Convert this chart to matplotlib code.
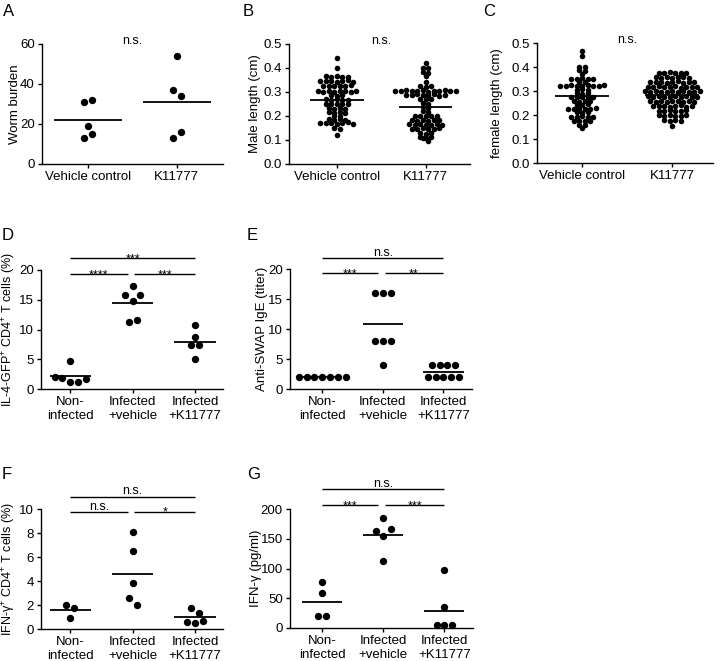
import numpy as np
import matplotlib.pyplot as plt

plt.rcParams['font.family'] = ['Liberation Sans', 'DejaVu Sans']
plt.rcParams['mathtext.fontset'] = 'custom'
plt.rcParams['mathtext.rm'] = 'Liberation Sans'
plt.rcParams['mathtext.it'] = 'Liberation Sans:italic'

FIG_W, FIG_H = 720, 661

# ---- data ----
groups_2 = ["Vehicle control", "K11777"]
groups_3 = ["Non-\ninfected", "Infected\n+vehicle", "Infected\n+K11777"]

worm_vehicle = [31, 32, 19, 13, 15]
worm_k11777 = [54, 37, 34, 13, 16]

male_vehicle = [0.44, 0.40,
                0.366, 0.363, 0.368, 0.364, 0.362,
                0.346, 0.344, 0.347, 0.343, 0.345, 0.348, 0.342,
                0.326, 0.324, 0.327, 0.323, 0.325, 0.328,
                0.304, 0.302, 0.305, 0.301, 0.303, 0.306, 0.300, 0.303,
                0.286, 0.284, 0.287,
                0.269, 0.267, 0.270, 0.266, 0.268,
                0.251, 0.249, 0.252, 0.248, 0.250,
                0.233, 0.231, 0.234, 0.230,
                0.216, 0.214, 0.217, 0.213,
                0.201, 0.199,
                0.186, 0.184, 0.187, 0.183,
                0.171, 0.169, 0.172, 0.168, 0.170, 0.173, 0.167,
                0.150, 0.146,
                0.120]
male_k11777 = [0.420,
               0.401, 0.398,
               0.384, 0.381,
               0.366,
               0.341,
               0.323, 0.321, 0.324,
               0.306, 0.304, 0.307, 0.303, 0.305, 0.308, 0.302, 0.306, 0.304, 0.307, 0.303, 0.305,
               0.289, 0.287, 0.290, 0.286, 0.288, 0.291, 0.285, 0.288,
               0.271, 0.269, 0.272,
               0.253, 0.251,
               0.236, 0.233,
               0.219, 0.216,
               0.201, 0.199, 0.202, 0.198, 0.200,
               0.183, 0.181, 0.184, 0.180, 0.182, 0.185,
               0.165, 0.163, 0.166, 0.162, 0.164, 0.167, 0.161,
               0.147, 0.145, 0.148, 0.144, 0.146, 0.149,
               0.129, 0.127, 0.130,
               0.111, 0.109, 0.112, 0.108,
               0.096]

female_vehicle = [0.468, 0.447,
                  0.401, 0.398,
                  0.386, 0.383,
                  0.370,
                  0.352, 0.350, 0.353, 0.349, 0.352,
                  0.336, 0.338,
                  0.322, 0.321, 0.323, 0.320, 0.322, 0.324, 0.319, 0.321, 0.325,
                  0.306, 0.308, 0.305,
                  0.290, 0.288, 0.291,
                  0.276, 0.274, 0.277, 0.275, 0.273,
                  0.258, 0.256, 0.259, 0.257,
                  0.243, 0.241, 0.244,
                  0.226, 0.224, 0.227, 0.223, 0.225, 0.228,
                  0.211, 0.209, 0.212,
                  0.193, 0.191, 0.194, 0.190, 0.192,
                  0.176, 0.174, 0.177, 0.175,
                  0.160, 0.158,
                  0.145]
female_k11777 = [0.377, 0.375, 0.378, 0.374, 0.376, 0.373,
                 0.358, 0.356, 0.359, 0.355, 0.357, 0.360, 0.354,
                 0.338, 0.336, 0.339, 0.335, 0.337, 0.340, 0.334, 0.338, 0.336,
                 0.318, 0.316, 0.319, 0.315, 0.317, 0.320, 0.314, 0.318, 0.316, 0.317,
                 0.298, 0.296, 0.299, 0.295, 0.297, 0.300, 0.294, 0.298, 0.296, 0.297, 0.299,
                 0.278, 0.276, 0.279, 0.275, 0.277, 0.280, 0.274, 0.278, 0.276, 0.277,
                 0.258, 0.256, 0.259, 0.255, 0.257, 0.260, 0.254, 0.258, 0.256,
                 0.238, 0.236, 0.239, 0.235, 0.237, 0.240, 0.234, 0.238,
                 0.218, 0.216, 0.219, 0.215, 0.217, 0.220,
                 0.198, 0.196, 0.199, 0.195, 0.197, 0.200,
                 0.178, 0.176, 0.179, 0.175,
                 0.155]

il4_groups = [[4.7, 2.05, 1.8, 1.25, 1.25, 1.7],
              [17.3, 15.8, 14.8, 15.8, 11.3, 11.6],
              [10.8, 8.7, 7.4, 7.4, 5.0]]
il4_sig = ["***", "****", "***"]          # outer, left pair, right pair

ige_groups = [[2, 2, 2, 2, 2, 2, 2],
              [16, 16, 16, 8, 8, 8, 4],
              [4, 4, 4, 4, 2, 2, 2, 2, 2]]
ige_sig = ["n.s.", "***", "**"]

ifng_cells_groups = [[2.0, 1.75, 0.9],
                     [8.1, 6.5, 3.8, 2.6, 2.0],
                     [1.72, 1.3, 0.6, 0.5, 0.7]]
ifng_cells_sig = ["n.s.", "n.s.", "*"]

ifng_groups = [[78, 58, 20, 21],
               [185, 163, 155, 167, 113],
               [97, 35, 5, 5, 5]]
ifng_sig = ["n.s.", "***", "***"]


def add_axes(fig, left, top, right, bottom):
    return fig.add_axes([left / FIG_W, 1 - bottom / FIG_H,
                         (right - left) / FIG_W, (bottom - top) / FIG_H])


def style(ax, xlim, ylim, yticks, fmt="{:g}"):
    for s in ["top", "right"]:
        ax.spines[s].set_visible(False)
    for s in ["left", "bottom"]:
        ax.spines[s].set_linewidth(1.0)
    ax.tick_params(width=1.0, length=3.2, labelsize=9.5, pad=2)
    ax.set_xlim(*xlim)
    ax.set_ylim(*ylim)
    ax.set_yticks(yticks)
    ax.set_yticklabels([fmt.format(t) for t in yticks])


def px_units(ax):
    pos = ax.get_position()
    x0, x1 = ax.get_xlim()
    y0, y1 = ax.get_ylim()
    return (x1 - x0) / (pos.width * FIG_W), (y1 - y0) / (pos.height * FIG_H)


def set_ylabel(ax, text, right_px, size=9.5):
    # right edge of the rotated label, in figure pixels
    pos = ax.get_position()
    ax.set_ylabel(text, fontsize=size)
    ax.yaxis.set_label_coords((right_px / FIG_W - pos.x0) / pos.width, 0.5)


def dot_column(ax, values, center, row_px, dx_px, ms, half):
    # Prism-like: points that overlap vertically form a row, spread sideways
    ux, uy = px_units(ax)
    vals = np.asarray(values, float)
    order = np.argsort(vals, kind="stable")
    rows = []
    for i in order:
        if rows and vals[i] - vals[rows[-1][0]] < row_px * uy:
            rows[-1].append(i)
        else:
            rows.append([i])
    xs = np.zeros(len(vals))
    for row in rows:
        row = sorted(row)
        n = len(row)
        for k, i in enumerate(row):
            xs[i] = center + (k - (n - 1) / 2) * dx_px * ux
    ax.plot(xs, vals, "o", color="black", ms=ms, mew=0, clip_on=False, zorder=3)
    m = vals.mean()
    ax.plot([center - half, center + half], [m, m], color="black", lw=1.3,
            zorder=2, solid_capstyle="butt")


def sig_bar(ax, x0, x1, y, label):
    ax.plot([x0, x1], [y, y], color="black", lw=1.0, clip_on=False,
            solid_capstyle="butt")
    off = 1.8 if label == "n.s." else -2.8
    ax.annotate(label, ((x0 + x1) / 2, y), xytext=(0, off),
                textcoords="offset points", ha="center", va="baseline",
                fontsize=9, annotation_clip=False)


def two_group(fig, box, a, b, ylim, yticks, ylabel, label_px, fmt, row_px, dx_px, ms,
              half, xlim):
    ax = add_axes(fig, *box)
    style(ax, xlim, ylim, yticks, fmt)
    dot_column(ax, a, 0, row_px, dx_px, ms, half)
    dot_column(ax, b, 1, row_px, dx_px, ms, half)
    ax.set_xticks([0, 1])
    ax.set_xticklabels(groups_2)
    set_ylabel(ax, ylabel, label_px)
    ax.text(0.5, ylim[1], "n.s.", ha="center", va="baseline", fontsize=9)
    return ax


def three_group(fig, box, groups, sig, ylim, yticks, ylabel, label_px, levels, xlim,
                label_size=9.5):
    ax = add_axes(fig, *box)
    style(ax, xlim, ylim, yticks)
    for i, g in enumerate(groups):
        dot_column(ax, g, i, 7.6, 7.8, 5.3, 0.33)
    ax.set_xticks([0, 1, 2])
    ax.set_xticklabels(groups_3)
    set_ylabel(ax, ylabel, label_px, label_size)
    top, low = levels
    sig_bar(ax, 0, 2, top, sig[0])
    sig_bar(ax, 0, 0.92, low, sig[1])
    sig_bar(ax, 1.03, 2, low, sig[2])
    return ax


fig = plt.figure(figsize=(FIG_W / 100, FIG_H / 100), dpi=100)

two_group(fig, (42, 44, 223, 164), worm_vehicle, worm_k11777, (0, 60), [0, 20, 40, 60],
          "Worm burden", 21.5, "{:g}", 7.6, 8, 5.3, 0.38, (-0.52, 1.52))
two_group(fig, (289, 44, 470, 164), male_vehicle, male_k11777, (0, 0.5),
          [0, 0.1, 0.2, 0.3, 0.4, 0.5], "Male length (cm)", 261, "{:.1f}", 3.1, 5.5, 4.0,
          0.3, (-0.54, 1.5))
two_group(fig, (537, 43, 713, 163), female_vehicle, female_k11777, (0, 0.5),
          [0, 0.1, 0.2, 0.3, 0.4, 0.5], "female length (cm)", 503.5, "{:.1f}", 3.1, 5.5,
          4.0, 0.3, (-0.5, 1.45))

three_group(fig, (41, 270, 223, 389), il4_groups, il4_sig, (0, 20), [0, 5, 10, 15, 20],
            r"IL-4-GFP$^{+}$ CD4$^{+}$ T cells (%)", 18.5, (22.0, 19.3), (-0.47, 2.45),
            label_size=9)
three_group(fig, (290, 269, 472, 389), ige_groups, ige_sig, (0, 20), [0, 5, 10, 15, 20],
            "Anti-SWAP IgE (titer)", 268.5, (21.8, 19.3), (-0.53, 2.47))
three_group(fig, (41, 509, 223, 629), ifng_cells_groups, ifng_cells_sig, (0, 10),
            [0, 2, 4, 6, 8, 10], r"IFN-γ$^{+}$ CD4$^{+}$ T cells (%)", 18, (11.0, 9.75),
            (-0.47, 2.45), label_size=9)
three_group(fig, (290, 509, 473, 628), ifng_groups, ifng_sig, (0, 200),
            [0, 50, 100, 150, 200], "IFN-γ (pg/ml)", 261.5, (233, 206), (-0.53, 2.47))

for letter, x, y in [("A", 3, 4), ("B", 243, 4), ("C", 483, 4), ("D", 2, 228),
                     ("E", 247, 228), ("F", 2, 467), ("G", 247, 467)]:
    fig.text(x / FIG_W, 1 - y / FIG_H, letter, fontsize=12, ha="left", va="top")

fig.savefig("out.png", dpi=100)
